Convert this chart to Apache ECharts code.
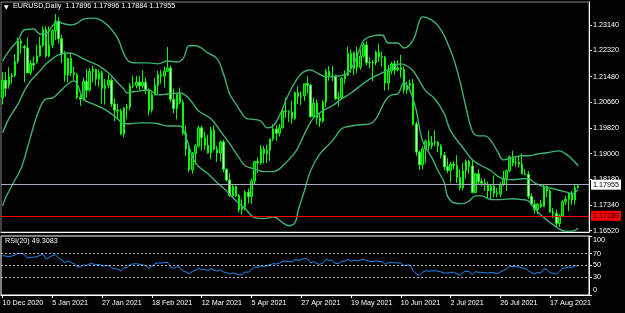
<!DOCTYPE html>
<html>
<head>
<meta charset="utf-8">
<script src="https://cdn.jsdelivr.net/npm/echarts@6/dist/echarts.min.js"></script>
<style>
  html, body { margin: 0; padding: 0; background: #000; }
  #main { width: 625px; height: 313px; }
</style>
</head>
<body>
<div id="main"></div>
<script>
// daily bars, 10 Dec 2020 .. 30 Aug 2021 (no bars on 25 Dec / 1 Jan)
const opens = [
  1.2080, 1.2136, 1.2120, 1.2147, 1.2152, 1.2197, 1.2262, 1.2245, 1.2240, 1.2160, 1.2190, 1.2195, 1.2215, 1.2248, 1.2299,
  1.2214, 1.2250, 1.2296, 1.2325, 1.2270, 1.2220, 1.2153, 1.2206, 1.2160, 1.2155, 1.2081, 1.2076, 1.2132, 1.2104, 1.2165, 1.2171, 1.2140, 1.2160, 1.2110, 1.2120,
  1.2136, 1.2060, 1.2040, 1.2037, 1.1963, 1.2047, 1.2050, 1.2118, 1.2120, 1.2130, 1.2118, 1.2130, 1.2105, 1.2040, 1.2090, 1.2120, 1.2155, 1.2150, 1.2165, 1.2175,
  1.2075, 1.2045, 1.2090, 1.2065, 1.1966, 1.1915, 1.1848, 1.1900, 1.1925, 1.1983, 1.1951, 1.1927, 1.1903, 1.1976, 1.1914, 1.1902, 1.1938, 1.1850, 1.1815, 1.1765, 1.1794, 1.1765, 1.1720,
  1.1728, 1.1776, 1.1762, 1.1812, 1.1874, 1.1870, 1.1915, 1.1900, 1.1911, 1.1947, 1.1979, 1.1966, 1.1983, 1.2037, 1.2035, 1.2033, 1.2014, 1.2096, 1.2084, 1.2086, 1.2125, 1.2120,
  1.2019, 1.2062, 1.2015, 1.2005, 1.2066, 1.2165, 1.2150, 1.2148, 1.2077, 1.2080, 1.2142, 1.2153, 1.2223, 1.2174, 1.2224, 1.2178, 1.2214, 1.2250, 1.2193, 1.2194, 1.2193,
  1.2226, 1.2212, 1.2210, 1.2127, 1.2166, 1.2189, 1.2170, 1.2176, 1.2171, 1.2105, 1.2120, 1.2125, 1.1995, 1.1905, 1.1864, 1.1915, 1.1940, 1.1926, 1.1935, 1.1937, 1.1925, 1.1895,
  1.1858, 1.1846, 1.1865, 1.1862, 1.1823, 1.1790, 1.1845, 1.1875, 1.1860, 1.1775, 1.1835, 1.1810, 1.1805, 1.1800, 1.1780, 1.1795, 1.1772, 1.1770, 1.1800, 1.1820, 1.1845, 1.1890,
  1.1870, 1.1872, 1.1866, 1.1835, 1.1833, 1.1762, 1.1737, 1.1720, 1.1738, 1.1730, 1.1795, 1.1780, 1.1712, 1.1708, 1.1675, 1.1700, 1.1745, 1.1753, 1.1770, 1.1751, 1.17896
];
const highs = [
  1.2163, 1.2162, 1.2178, 1.2160, 1.2220, 1.2273, 1.2270, 1.2250, 1.2273, 1.2200, 1.2212, 1.2250, 1.2276, 1.2310, 1.2310,
  1.2310, 1.2300, 1.2349, 1.2340, 1.2282, 1.2230, 1.2210, 1.2223, 1.2180, 1.2160, 1.2090, 1.2145, 1.2172, 1.2175, 1.2183, 1.2174, 1.2171, 1.2168, 1.2140, 1.2155,
  1.2145, 1.2078, 1.2060, 1.2044, 1.2050, 1.2060, 1.2127, 1.2150, 1.2150, 1.2150, 1.2169, 1.2145, 1.2110, 1.2097, 1.2144, 1.2167, 1.2170, 1.2180, 1.2243, 1.2183,
  1.2110, 1.2095, 1.2113, 1.2074, 1.1990, 1.1930, 1.1905, 1.1930, 1.1990, 1.1990, 1.1970, 1.1960, 1.1987, 1.1990, 1.1925, 1.1942, 1.1945, 1.1852, 1.1837, 1.1800, 1.1797, 1.1770, 1.1753,
  1.1782, 1.1788, 1.1820, 1.1877, 1.1887, 1.1927, 1.1925, 1.1928, 1.1948, 1.1994, 1.1990, 1.1995, 1.2048, 1.2080, 1.2040, 1.2070, 1.2100, 1.2117, 1.2100, 1.2125, 1.2150, 1.2125,
  1.2080, 1.2074, 1.2030, 1.2072, 1.2172, 1.2182, 1.2182, 1.2154, 1.2098, 1.2146, 1.2168, 1.2245, 1.2235, 1.2228, 1.2244, 1.2235, 1.2258, 1.2262, 1.2210, 1.2200, 1.2232,
  1.2254, 1.2229, 1.2215, 1.2185, 1.2195, 1.2200, 1.2200, 1.2218, 1.2180, 1.2130, 1.2138, 1.2140, 1.2003, 1.1910, 1.1923, 1.1945, 1.1975, 1.1957, 1.1975, 1.1940, 1.1930, 1.1905,
  1.1885, 1.1872, 1.1875, 1.1895, 1.1850, 1.1868, 1.1880, 1.1880, 1.1880, 1.1838, 1.1850, 1.1820, 1.1820, 1.1810, 1.1802, 1.1830, 1.1790, 1.1808, 1.1845, 1.1849, 1.1894, 1.1909,
  1.1893, 1.1890, 1.1900, 1.1850, 1.1843, 1.1772, 1.1750, 1.1740, 1.1752, 1.1800, 1.1797, 1.1785, 1.1725, 1.1720, 1.1705, 1.1750, 1.1764, 1.1772, 1.1780, 1.1800, 1.17996
];
const lows = [
  1.2058, 1.2083, 1.2109, 1.2125, 1.2146, 1.2190, 1.2222, 1.2130, 1.2160, 1.2152, 1.2168, 1.2190, 1.2212, 1.2243, 1.2208,
  1.2210, 1.2240, 1.2265, 1.2255, 1.2192, 1.2132, 1.2130, 1.2150, 1.2135, 1.2075, 1.2054, 1.2070, 1.2080, 1.2100, 1.2130, 1.2119, 1.2115, 1.2060, 1.2058, 1.2110,
  1.2050, 1.2005, 1.2011, 1.1960, 1.1952, 1.2012, 1.2039, 1.2110, 1.2110, 1.2105, 1.2110, 1.2090, 1.2023, 1.2032, 1.2087, 1.2090, 1.2125, 1.2113, 1.2163, 1.2065,
  1.2030, 1.2011, 1.2058, 1.1960, 1.1893, 1.1840, 1.1835, 1.1865, 1.1920, 1.1910, 1.1912, 1.1900, 1.1883, 1.1910, 1.1873, 1.1875, 1.1840, 1.1810, 1.1761, 1.1762, 1.1760, 1.1711, 1.1704,
  1.1717, 1.1740, 1.1738, 1.1802, 1.1838, 1.1864, 1.1868, 1.1870, 1.1877, 1.1940, 1.1941, 1.1955, 1.1981, 1.2015, 1.2002, 1.1996, 1.2008, 1.2060, 1.2057, 1.2070, 1.2095, 1.2016,
  1.2016, 1.1994, 1.1986, 1.1999, 1.2050, 1.2135, 1.2133, 1.2072, 1.2052, 1.2075, 1.2125, 1.2150, 1.2160, 1.2153, 1.2160, 1.2170, 1.2209, 1.2185, 1.2175, 1.2133, 1.2185,
  1.2195, 1.2180, 1.2103, 1.2105, 1.2156, 1.2154, 1.2165, 1.2144, 1.2093, 1.2092, 1.2102, 1.1990, 1.1893, 1.1847, 1.1850, 1.1870, 1.1910, 1.1915, 1.1925, 1.1905, 1.1885, 1.1847,
  1.1837, 1.1807, 1.1850, 1.1805, 1.1781, 1.1782, 1.1820, 1.1835, 1.1772, 1.1772, 1.1800, 1.1795, 1.1780, 1.1755, 1.1752, 1.1760, 1.1760, 1.1760, 1.1795, 1.1780, 1.1840, 1.1859,
  1.1858, 1.1856, 1.1833, 1.1830, 1.1754, 1.1734, 1.1707, 1.1705, 1.1725, 1.1728, 1.1760, 1.1710, 1.1693, 1.1665, 1.1664, 1.1697, 1.1735, 1.1715, 1.1735, 1.1736, 1.17884
];
const closes = [
  1.2136, 1.2110, 1.2147, 1.2152, 1.2197, 1.2262, 1.2255, 1.2240, 1.2160, 1.2190, 1.2185, 1.2215, 1.2248, 1.2299, 1.2214,
  1.2250, 1.2296, 1.2325, 1.2270, 1.2220, 1.2153, 1.2206, 1.2160, 1.2155, 1.2081, 1.2076, 1.2132, 1.2104, 1.2165, 1.2171, 1.2140, 1.2160, 1.2110, 1.2120, 1.2136,
  1.2060, 1.2040, 1.2037, 1.1963, 1.2047, 1.2050, 1.2118, 1.2120, 1.2130, 1.2118, 1.2130, 1.2105, 1.2040, 1.2090, 1.2120, 1.2155, 1.2150, 1.2165, 1.2175, 1.2075,
  1.2045, 1.2090, 1.2065, 1.1966, 1.1915, 1.1848, 1.1900, 1.1925, 1.1983, 1.1951, 1.1927, 1.1903, 1.1976, 1.1914, 1.1902, 1.1938, 1.1850, 1.1815, 1.1765, 1.1794, 1.1765, 1.1720, 1.1728,
  1.1776, 1.1762, 1.1812, 1.1874, 1.1870, 1.1915, 1.1900, 1.1911, 1.1947, 1.1979, 1.1966, 1.1983, 1.2037, 1.2035, 1.2033, 1.2014, 1.2096, 1.2084, 1.2086, 1.2125, 1.2120, 1.2019,
  1.2062, 1.2015, 1.2005, 1.2066, 1.2165, 1.2150, 1.2148, 1.2077, 1.2080, 1.2142, 1.2153, 1.2223, 1.2174, 1.2224, 1.2178, 1.2214, 1.2250, 1.2193, 1.2194, 1.2193, 1.2226,
  1.2212, 1.2210, 1.2127, 1.2166, 1.2189, 1.2170, 1.2176, 1.2171, 1.2105, 1.2120, 1.2125, 1.1995, 1.1905, 1.1864, 1.1915, 1.1940, 1.1926, 1.1935, 1.1937, 1.1925, 1.1895, 1.1858,
  1.1846, 1.1865, 1.1862, 1.1823, 1.1790, 1.1845, 1.1875, 1.1860, 1.1775, 1.1835, 1.1810, 1.1805, 1.1800, 1.1780, 1.1795, 1.1772, 1.1770, 1.1800, 1.1820, 1.1845, 1.1890, 1.1870,
  1.1872, 1.1866, 1.1835, 1.1833, 1.1762, 1.1737, 1.1720, 1.1738, 1.1730, 1.1795, 1.1780, 1.1712, 1.1708, 1.1675, 1.1700, 1.1745, 1.1753, 1.1770, 1.1751, 1.1790, 1.17955
];

// Bollinger bands: [bar index, price]
const upperBand = [
  [0, 1.2198], [2, 1.2230], [5, 1.2266], [7, 1.2298], [10, 1.2301], [12, 1.2285], [14, 1.2285], [16, 1.2311],
  [18, 1.2327], [19, 1.2320], [22, 1.2314], [24, 1.2320], [26, 1.2333], [29, 1.2336], [31, 1.2333], [34, 1.2311],
  [37, 1.2272], [39, 1.2221], [41, 1.2195], [44, 1.2192], [47, 1.2192], [50, 1.2189], [53, 1.2198], [56, 1.2195],
  [58, 1.2205], [60, 1.2247], [62, 1.2247], [66, 1.2224], [69, 1.2205], [71, 1.2157], [73, 1.2092], [75, 1.2060],
  [78, 1.2015], [79, 1.2012], [83, 1.2005], [85, 1.1983], [87, 1.1989], [89, 1.2022], [91, 1.2070], [93, 1.2112],
  [96, 1.2157], [99, 1.2169], [101, 1.2160], [104, 1.2147], [108, 1.2150], [111, 1.2160], [114, 1.2214], [116, 1.2263],
  [119, 1.2279], [122, 1.2282], [124, 1.2256], [127, 1.2256], [129, 1.2240], [132, 1.2266], [134, 1.2327], [135, 1.2340],
  [138, 1.2330], [140, 1.2311], [142, 1.2279], [143, 1.2256], [145, 1.2205], [147, 1.2134], [149, 1.2047], [151, 1.1973],
  [153, 1.1957], [155, 1.1957], [157, 1.1941], [159, 1.1909], [161, 1.1880], [164, 1.1887], [167, 1.1893], [169, 1.1893],
  [172, 1.1899], [175, 1.1903], [179, 1.1909], [181, 1.1899], [183, 1.1883], [185, 1.1861]
];
const middleBand = [
  [0, 1.1967], [2, 1.2012], [5, 1.2060], [7, 1.2102], [9, 1.2134], [12, 1.2166], [14, 1.2189], [16, 1.2205],
  [18, 1.2218], [21, 1.2224], [23, 1.2221], [26, 1.2205], [29, 1.2192], [31, 1.2182], [34, 1.2160], [37, 1.2128],
  [39, 1.2108], [40, 1.2095], [42, 1.2099], [44, 1.2102], [47, 1.2105], [50, 1.2089], [53, 1.2092], [57, 1.2095],
  [60, 1.2076], [63, 1.2038], [67, 1.2012], [70, 1.1973], [73, 1.1932], [76, 1.1887], [78, 1.1861], [81, 1.1851],
  [84, 1.1842], [87, 1.1842], [89, 1.1851], [91, 1.1870], [94, 1.1903], [96, 1.1941], [98, 1.1983], [100, 1.2015],
  [103, 1.2038], [106, 1.2054], [109, 1.2076], [112, 1.2095], [115, 1.2118], [118, 1.2140], [122, 1.2160], [125, 1.2176],
  [128, 1.2189], [130, 1.2182], [132, 1.2166], [134, 1.2134], [136, 1.2102], [139, 1.2076], [142, 1.2028], [144, 1.1973],
  [148, 1.1919], [151, 1.1880], [154, 1.1861], [157, 1.1845], [160, 1.1822], [164, 1.1816], [167, 1.1819], [169, 1.1819],
  [171, 1.1806], [174, 1.1793], [177, 1.1787], [181, 1.1777], [183, 1.1771], [185, 1.1784]
];
const lowerBand = [
  [0, 1.1732], [1, 1.1758], [3, 1.1797], [6, 1.1854], [8, 1.1919], [10, 1.1989], [12, 1.2047], [14, 1.2076],
  [16, 1.2079], [18, 1.2095], [21, 1.2124], [23, 1.2134], [24, 1.2124], [26, 1.2076], [29, 1.2060], [32, 1.2047],
  [35, 1.2028], [37, 1.2012], [39, 1.1996], [41, 1.1996], [44, 1.1999], [47, 1.1999], [50, 1.1996], [53, 1.1989],
  [57, 1.1989], [59, 1.1951], [62, 1.1870], [66, 1.1835], [69, 1.1806], [72, 1.1780], [75, 1.1748], [78, 1.1723],
  [81, 1.1694], [84, 1.1691], [87, 1.1697], [90, 1.1678], [92, 1.1668], [94, 1.1678], [95, 1.1716], [97, 1.1780],
  [99, 1.1845], [102, 1.1899], [106, 1.1941], [109, 1.1980], [112, 1.1989], [115, 1.1993], [118, 1.1996], [120, 1.2012],
  [123, 1.2070], [125, 1.2089], [127, 1.2092], [129, 1.2128], [131, 1.2102], [133, 1.2038], [135, 1.1941], [138, 1.1887],
  [140, 1.1845], [142, 1.1806], [143, 1.1764], [145, 1.1742], [148, 1.1739], [150, 1.1748], [152, 1.1764], [154, 1.1764],
  [157, 1.1752], [160, 1.1752], [164, 1.1755], [167, 1.1752], [169, 1.1748], [171, 1.1723], [174, 1.1694], [177, 1.1671],
  [181, 1.1650], [183, 1.1650], [185, 1.1660]
];

// RSI(20), one value per bar
const rsi = [
  66.7, 66, 65, 66, 68, 71, 70, 69, 63, 64,
  64, 65, 67, 69.5, 61, 64, 67, 68, 63, 60,
  55, 58, 55, 53, 48, 47.5, 51, 50, 53, 53,
  51, 52, 49, 49.5, 50, 46, 44.5, 44, 40.5, 46,
  46.5, 52, 52.5, 53, 52, 51, 50, 45, 49, 53,
  54.5, 54, 55, 55.5, 47, 45.5, 48, 46.5, 41, 39,
  36, 40, 42, 45.5, 43, 43, 41.5, 44.5, 42, 40.5,
  42.5, 39, 38, 35.5, 37.5, 36, 34, 35, 39, 38.5,
  43, 47, 47, 49.5, 48.5, 49.5, 51.5, 53, 52.5, 54,
  57, 57.5, 57, 56, 60, 59, 59.5, 62, 61, 54.5,
  56.5, 53.5, 51.7, 55, 60, 59, 58.5, 53, 53.5, 57,
  57.5, 60.5, 57, 59, 57.5, 59, 61, 58, 57, 56.5,
  58, 57, 56.5, 52, 54.5, 55.5, 54.5, 54.5, 54, 50,
  50.5, 51, 41, 35.5, 33.5, 38.5, 41, 40.5, 41, 41,
  40.5, 39, 37.5, 37, 38.5, 38.5, 36, 33.5, 38.5, 40.5,
  39.5, 35, 39.5, 38.5, 38.5, 38, 37, 38.5, 37.5, 36,
  39, 41.5, 44.5, 49, 48, 48, 47.5, 45.5, 45.5, 41,
  38, 36, 38, 37.5, 44.5, 43, 37.5, 37, 35, 40,
  45, 46, 47.5, 46, 49.5, 49.3
];

const priceTicks = [1.16520, 1.17340, 1.18180, 1.19000, 1.19820, 1.20660, 1.21480, 1.22320, 1.23140];
const rsiTicks = [0, 30, 50, 70, 100];
const rsiLevels = [30, 50, 70];
const lastPrice = 1.17955;
const redLevel = 1.17159;

// trading days, weekends and 25 Dec / 1 Jan skipped
const MONTHS = ['Jan', 'Feb', 'Mar', 'Apr', 'May', 'Jun', 'Jul', 'Aug', 'Sep', 'Oct', 'Nov', 'Dec'];
var days = [];
var d = new Date(Date.UTC(2020, 11, 10));
while (days.length < closes.length) {
  var wd = d.getUTCDay();
  var skip = wd === 0 || wd === 6 ||
    (d.getUTCMonth() === 11 && d.getUTCDate() === 25) ||
    (d.getUTCMonth() === 0 && d.getUTCDate() === 1);
  if (!skip) {
    days.push(d.getUTCDate() + ' ' + MONTHS[d.getUTCMonth()] + ' ' + d.getUTCFullYear());
  }
  d = new Date(d.getTime() + 86400000);
}
var cats = days.concat(['', '', '']); // right shift of the chart

var candles = closes.map(function (c, i) {
  return [opens[i], c, lows[i], highs[i]];
});

var FONT = 'Liberation Sans';
var FS = 7.2;
var bandStyle = { color: '#3cb371', width: 1.4 };

function priceLabel(value, bg) {
  return {
    show: true, position: 'end', distance: 2,
    formatter: function () { return value.toFixed(5); },
    backgroundColor: bg, color: '#000', padding: [2, 2, 1, 2],
    fontSize: FS, fontFamily: FONT
  };
}

var chart = echarts.init(document.getElementById('main'));

var option = {
  backgroundColor: '#000',
  animation: false,
  textStyle: { fontFamily: FONT },
  title: [{
    text: 'EURUSD,Daily  1.17896 1.17996 1.17884 1.17955',
    left: 13, top: 3, padding: 0,
    textStyle: { color: '#fff', fontSize: FS, fontWeight: 'normal', fontFamily: FONT }
  }, {
    text: 'RSI(20) 49.3083',
    left: 5, top: 238, padding: 0,
    textStyle: { color: '#fff', fontSize: FS, fontWeight: 'normal', fontFamily: FONT }
  }],
  graphic: [{
    type: 'text', left: 4, top: 4,
    style: { text: '▼', fill: '#fff', fontSize: 6, fontFamily: 'DejaVu Sans' }
  }],
  grid: [{
    left: 1, right: 36, top: 2, height: 230,
    show: true, borderColor: '#808080', borderWidth: 1,
    outerBoundsMode: 'none'
  }, {
    left: 1, right: 36, top: 236, height: 59,
    show: true, borderColor: '#ffffff', borderWidth: 1,
    outerBoundsMode: 'none'
  }],
  xAxis: [{
    gridIndex: 0, type: 'category', data: cats,
    axisLine: { show: true, lineStyle: { color: '#fff' } },
    axisTick: { show: false },
    axisLabel: { show: false },
    splitLine: { show: false }
  }, {
    gridIndex: 1, type: 'category', data: cats,
    axisLine: { show: true, lineStyle: { color: '#fff' } },
    axisTick: { show: true, alignWithLabel: true, interval: 15, length: 3, lineStyle: { color: '#fff' } },
    axisLabel: {
      interval: 15, align: 'left', margin: 5,
      color: '#fff', fontSize: FS, fontFamily: FONT, hideOverlap: false
    },
    splitLine: { show: false }
  }],
  yAxis: [{
    gridIndex: 0, type: 'value', position: 'right',
    min: 1.16478, max: 1.23880,
    axisLine: { show: true, lineStyle: { color: '#fff' } },
    axisTick: { show: true, length: 3, customValues: priceTicks, lineStyle: { color: '#fff' } },
    axisLabel: {
      customValues: priceTicks, margin: 4,
      color: '#fff', fontSize: FS, fontFamily: FONT,
      formatter: function (v) { return v.toFixed(5); }
    },
    splitLine: { show: false }
  }, {
    gridIndex: 1, type: 'value', position: 'right',
    min: 0, max: 100,
    axisLine: { show: true, lineStyle: { color: '#fff' } },
    axisTick: { show: true, length: 3, customValues: rsiTicks, lineStyle: { color: '#fff' } },
    axisLabel: {
      customValues: rsiTicks, margin: 4,
      color: '#fff', fontSize: FS, fontFamily: FONT,
      formatter: function (v) {
        if (v === 100) return '{t|100}';
        if (v === 0) return '{b|0}';
        return String(v);
      },
      rich: {
        t: { padding: [8, 0, 0, 0], color: '#fff', fontSize: FS, fontFamily: FONT },
        b: { padding: [0, 0, 10, 0], color: '#fff', fontSize: FS, fontFamily: FONT }
      }
    },
    splitLine: { show: false }
  }],
  series: [{
    name: 'EURUSD', type: 'candlestick',
    xAxisIndex: 0, yAxisIndex: 0,
    data: candles,
    barWidth: 2,
    itemStyle: {
      color: '#009000', borderColor: '#00ff00',
      color0: '#e6ffe6', borderColor0: '#00ff00',
      borderWidth: 1
    },
    markLine: {
      symbol: 'none', silent: true, animation: false,
      data: [{
        yAxis: lastPrice,
        lineStyle: { color: '#a3abbd', width: 1, type: 'solid' },
        label: priceLabel(lastPrice, '#ffffff')
      }, {
        yAxis: redLevel,
        lineStyle: { color: '#ff0000', width: 1, type: 'solid' },
        label: priceLabel(redLevel, '#ff0000')
      }]
    }
  }, {
    name: 'BB upper', type: 'line', xAxisIndex: 0, yAxisIndex: 0,
    data: upperBand, smooth: 0.4, showSymbol: false, lineStyle: bandStyle, z: 3
  }, {
    name: 'BB middle', type: 'line', xAxisIndex: 0, yAxisIndex: 0,
    data: middleBand, smooth: 0.4, showSymbol: false, lineStyle: bandStyle, z: 3
  }, {
    name: 'BB lower', type: 'line', xAxisIndex: 0, yAxisIndex: 0,
    data: lowerBand, smooth: 0.4, showSymbol: false, lineStyle: bandStyle, z: 3
  }, {
    name: 'RSI', type: 'line', xAxisIndex: 1, yAxisIndex: 1,
    data: rsi, showSymbol: false,
    lineStyle: { color: '#1e90ff', width: 1 },
    markLine: {
      symbol: 'none', silent: true, animation: false,
      label: { show: false },
      lineStyle: { color: '#c0c0c0', width: 1, type: [2, 2] },
      data: rsiLevels.map(function (v) { return { yAxis: v }; })
    }
  }]
};

chart.setOption(option);
</script>
</body>
</html>
